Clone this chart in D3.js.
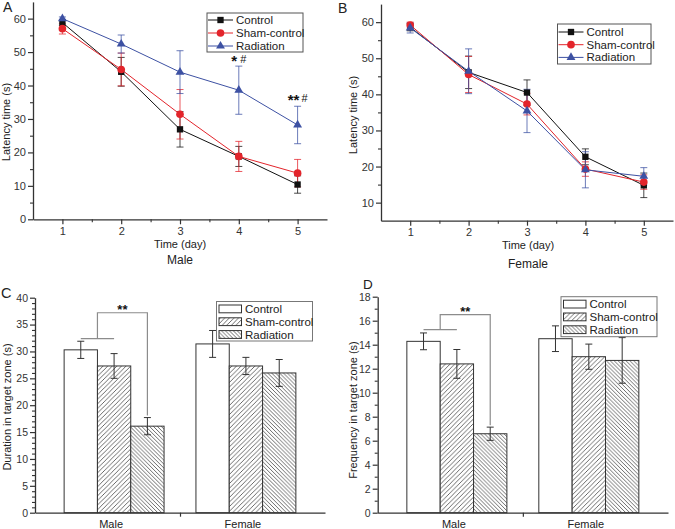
<!DOCTYPE html>
<html><head><meta charset="utf-8">
<script src="https://cdn.jsdelivr.net/npm/d3@7"></script>
<style>
body{margin:0;background:#fff;}
svg{display:block;font-family:"Liberation Sans",Arial,sans-serif;}
</style></head>
<body><svg id="c" width="675" height="529"></svg>
<script>
// ---------- data ----------
const days = [1, 2, 3, 4, 5];
const seriesNames = ["Control", "Sham-control", "Radiation"];
const maleControl = [58.8, 44.1, 26.9, 18.8, 10.4];
const maleControlErr = [0.8, 4.3, 5.3, 3.0, 2.6];
const maleSham = [57.0, 44.8, 31.4, 18.8, 13.8];
const maleShamErr = [1.6, 4.9, 7.4, 4.5, 4.1];
const maleRad = [60.0, 52.4, 44.0, 38.6, 28.2];
const maleRadErr = [0.5, 2.7, 6.4, 7.2, 5.6];
const femaleControl = [58.6, 46.1, 40.5, 22.7, 14.8];
const femaleControlErr = [1.0, 4.5, 3.5, 2.2, 3.4];
const femaleSham = [59.2, 45.5, 37.3, 19.3, 15.7];
const femaleShamErr = [0.8, 5.0, 3.0, 2.0, 2.0];
const femaleRad = [58.4, 46.4, 35.4, 19.1, 17.3];
const femaleRadErr = [1.4, 6.2, 6.0, 5.0, 2.4];

const sexes = ["Male", "Female"];
const durControl = [30.3, 31.4], durControlErr = [1.6, 2.5];
const durSham = [27.3, 27.3], durShamErr = [2.3, 1.6];
const durRad = [16.1, 26.0], durRadErr = [1.6, 2.5];
const freqControl = [14.28, 14.5], freqControlErr = [0.7, 1.07];
const freqSham = [12.4, 13.0], freqShamErr = [1.2, 1.05];
const freqRad = [6.58, 12.69], freqRadErr = [0.55, 1.9];

const ticksA = [0, 10, 20, 30, 40, 50, 60];
const ticksB = [10, 20, 30, 40, 50, 60];
const ticksC = [0, 5, 10, 15, 20, 25, 30, 35, 40];
const ticksD = [0, 2, 4, 6, 8, 10, 12, 14, 16, 18];

// ---------- setup ----------
const svg = d3.select("#c");
const colors = ["#111111", "#e3242b", "#3d51a3"];
const symbols = [d3.symbolSquare, d3.symbolCircle, d3.symbolTriangle];
const symSizes = [40, 46, 34];
const AX = "#333";

const defs = svg.append("defs");
function hatch(id, period, dir) {
  const p = defs.append("pattern").attr("id", id).attr("patternUnits", "userSpaceOnUse")
    .attr("width", period).attr("height", period);
  p.append("rect").attr("width", period).attr("height", period).attr("fill", "#fff");
  const w = period;
  const d = dir > 0
    ? `M0,${w} L${w},0 M${-w / 2},${w / 2} L${w / 2},${-w / 2} M${w / 2},${w * 1.5} L${w * 1.5},${w / 2}`
    : `M0,0 L${w},${w} M${-w / 2},${w / 2} L${w / 2},${w * 1.5} M${w / 2},${-w / 2} L${w * 1.5},${w / 2}`;
  p.append("path").attr("d", d).attr("stroke", "#3a3a3a").attr("stroke-width", 0.75);
}
hatch("hSham", 4.6, 1);
hatch("hRad", 3.9, -1);
const fills = ["#fff", "url(#hSham)", "url(#hRad)"];

function styleAxis(g, fs) {
  g.selectAll("path.domain").attr("stroke", AX).attr("stroke-width", 1.3);
  g.selectAll(".tick line").attr("stroke", AX).attr("stroke-width", 1.2);
  g.selectAll(".tick text").attr("fill", "#333").style("font-size", fs + "px")
    .style("font-family", '"Liberation Sans",Arial,sans-serif');
}
function minorAxis(g, axisFn, scale, vals, size) {
  const a = g.append("g").call(axisFn(scale).tickValues(vals).tickSize(size).tickFormat(""));
  a.select("path.domain").remove();
  a.selectAll(".tick line").attr("stroke", AX).attr("stroke-width", 1.1);
}
function text(x, y, s, fs, anchor, rot) {
  const t = svg.append("text").attr("x", x).attr("y", y).text(s)
    .style("font-size", fs + "px").attr("fill", "#222").attr("text-anchor", anchor || "middle");
  if (rot) t.attr("transform", `rotate(-90,${x},${y})`);
  return t;
}

// ---------- line panels ----------
function linePanel(cfg) {
  const x = d3.scaleLinear().domain([0.5, 5.5]).range(cfg.xr);
  const y = d3.scaleLinear().domain(cfg.ydom).range(cfg.yr);
  const g = svg.append("g");
  const yAx = g.append("g").attr("transform", `translate(${cfg.xr[0]},0)`)
    .call(d3.axisLeft(y).tickValues(cfg.yticks).tickSize(5).tickSizeOuter(0).tickPadding(2));
  styleAxis(yAx, 11);
  minorAxis(yAx, d3.axisLeft, y, cfg.yticks.map(v => v + 5).filter(v => v < cfg.ydom[1]), 3);
  const xAx = g.append("g").attr("transform", `translate(0,${cfg.yr[0]})`)
    .call(d3.axisBottom(x).tickValues(days).tickFormat(d3.format("d")).tickSize(5).tickSizeOuter(0).tickPadding(3));
  styleAxis(xAx, 11);
  minorAxis(xAx, d3.axisBottom, x, [1.5, 2.5, 3.5, 4.5], 3);

  const line = d3.line().x((d, i) => x(days[i])).y(d => y(d));
  cfg.series.forEach((s, k) => {
    const sg = g.append("g");
    sg.append("path").attr("d", line(s.v)).attr("fill", "none").attr("stroke", colors[k]).attr("stroke-width", 1);
    s.v.forEach((v, i) => {
      const cx = x(days[i]), hi = y(v + s.e[i]), lo = y(v - s.e[i]);
      sg.append("path").attr("d", `M${cx},${hi}V${lo}M${cx - 3.5},${hi}H${cx + 3.5}M${cx - 3.5},${lo}H${cx + 3.5}`)
        .attr("stroke", colors[k]).attr("stroke-width", 0.9).attr("fill", "none").attr("opacity", 0.85);
    });
  });
  cfg.series.forEach((s, k) => {
    g.append("g").selectAll("path").data(s.v).join("path")
      .attr("transform", (d, i) => `translate(${x(days[i])},${y(d)})`)
      .attr("d", d3.symbol().type(symbols[k]).size(symSizes[k])).attr("fill", colors[k]);
  });
  // legend
  const L = cfg.leg;
  g.append("rect").attr("x", L.x).attr("y", L.y).attr("width", L.w).attr("height", L.h)
    .attr("fill", "#fff").attr("stroke", "#555").attr("stroke-width", 1);
  seriesNames.forEach((n, k) => {
    const yy = L.y + L.dy0 + k * L.dy;
    g.append("line").attr("x1", L.x + 1).attr("x2", L.x + 26).attr("y1", yy).attr("y2", yy)
      .attr("stroke", colors[k]).attr("stroke-width", 1);
    g.append("path").attr("transform", `translate(${L.x + 13.5},${yy})`)
      .attr("d", d3.symbol().type(symbols[k]).size(symSizes[k])).attr("fill", colors[k]);
    g.append("text").attr("x", L.x + 29).attr("y", yy + 4).text(n)
      .style("font-size", "11.5px").attr("fill", "#222");
  });
  return { x, y };
}

const A = linePanel({
  xr: [33, 327], yr: [219.3, 1.9], ydom: [0, 65], yticks: ticksA,
  series: [{ v: maleControl, e: maleControlErr }, { v: maleSham, e: maleShamErr }, { v: maleRad, e: maleRadErr }],
  leg: { x: 207, y: 13, w: 96, h: 39, dy0: 7, dy: 13 }
});
const B = linePanel({
  xr: [381, 673], yr: [220.7, 4.1], ydom: [5, 65], yticks: ticksB,
  series: [{ v: femaleControl, e: femaleControlErr }, { v: femaleSham, e: femaleShamErr }, { v: femaleRad, e: femaleRadErr }],
  leg: { x: 557.5, y: 24, w: 93.5, h: 40, dy0: 8, dy: 12.7 }
});

// significance marks (stars lowered to sit level with the #)
function sig(x, y, stars, hash, fs, gap) {
  const t = svg.append("text").attr("x", x).attr("y", y).attr("text-anchor", "middle")
    .style("font-size", fs + "px").style("font-weight", "bold").attr("fill", "#111");
  t.append("tspan").attr("dy", 2.5).text(stars);
  if (hash) t.append("tspan").attr("dy", -2.5).attr("dx", gap).style("font-size", "11px").style("font-weight", "normal").text(hash);
}
sig(A.x(4), A.y(maleRad[3] + maleRadErr[3]) - 3, "*", "#", 15, 3);
sig(A.x(5), A.y(maleRad[4] + maleRadErr[4]) - 4, "**", "#", 15, 2);

// titles A/B
text(3, 12, "A", 14, "start");
text(338, 13, "B", 14, "start");
text(10, 122, "Latency time (s)", 11, "middle", true);
text(357, 115, "Latency time (s)", 11, "middle", true);
text(180, 248, "Time (day)", 11);
text(528, 249, "Time (day)", 11);
text(180, 264, "Male", 12);
text(528, 268, "Female", 12);

// ---------- bar panels ----------
function barPanel(cfg) {
  const x = d3.scaleLinear().domain([0.4, 2.6]).range(cfg.xr);
  const y = d3.scaleLinear().domain(cfg.ydom).range(cfg.yr);
  const g = svg.append("g");
  const bw = 0.2527;
  cfg.series.forEach((s, k) => {
    s.v.forEach((v, i) => {
      const xc = i + 1 + (k - 1) * bw;
      const x0 = x(xc - bw / 2), x1 = x(xc + bw / 2);
      g.append("rect").attr("x", x0).attr("y", y(v)).attr("width", x1 - x0).attr("height", y(0) - y(v))
        .attr("fill", fills[k]).attr("stroke", "#333").attr("stroke-width", 1);
    });
  });
  cfg.series.forEach((s, k) => {
    s.v.forEach((v, i) => {
      const cx = x(i + 1 + (k - 1) * bw), hi = y(v + s.e[i]), lo = y(v - s.e[i]);
      g.append("path").attr("d", `M${cx},${hi}V${lo}M${cx - 3.5},${hi}H${cx + 3.5}M${cx - 3.5},${lo}H${cx + 3.5}`)
        .attr("stroke", "#333").attr("stroke-width", 1).attr("fill", "none");
    });
  });
  const yAx = g.append("g").attr("transform", `translate(${cfg.xr[0]},0)`)
    .call(d3.axisLeft(y).tickValues(cfg.yticks).tickSize(5).tickSizeOuter(0).tickPadding(2));
  styleAxis(yAx, 10.5);
  minorAxis(yAx, d3.axisLeft, y, cfg.minor, 3);
  const xAx = g.append("g").attr("transform", `translate(0,${cfg.yr[0]})`)
    .call(d3.axisBottom(x).tickValues([1.5]).tickFormat("").tickSize(4).tickSizeOuter(0));
  styleAxis(xAx, 11);
  sexes.forEach((s, i) => {
    g.append("text").attr("x", x(i + 1) - 3).attr("y", cfg.yr[0] + 15).text(s)
      .attr("text-anchor", "middle").style("font-size", "11px").attr("fill", "#222");
  });
  // bracket
  const gray = "#8c8c8c";
  const xm0 = x(1 - bw), xm1 = x(1), xmid = x(1 - bw / 2);
  const xr = x(1 + bw);
  const yLow = y(cfg.series[2].v[0] + cfg.series[2].e[0]) - 2;
  g.append("path").attr("d", `M${xm0},${y(cfg.brLow)}H${xm1}`).attr("stroke", gray).attr("stroke-width", 1.3);
  g.append("path").attr("d", `M${xmid},${y(cfg.brLow)}V${y(cfg.brHigh)}H${xr}V${yLow}`)
    .attr("stroke", gray).attr("stroke-width", 1.2).attr("fill", "none");
  g.append("text").attr("x", (xmid + xr) / 2).attr("y", y(cfg.brHigh) + 1).text("**")
    .attr("text-anchor", "middle").style("font-size", "13px").style("font-weight", "bold").attr("fill", "#111");
  // legend
  const L = cfg.leg;
  g.append("rect").attr("x", L.x).attr("y", L.y).attr("width", L.w).attr("height", L.h)
    .attr("fill", "#fff").attr("stroke", "#777").attr("stroke-width", 1);
  seriesNames.forEach((n, k) => {
    const yy = L.y + 3.5 + k * 12.8;
    g.append("rect").attr("x", L.x + 2.5).attr("y", yy).attr("width", 22.5).attr("height", 7.8)
      .attr("fill", fills[k]).attr("stroke", "#333").attr("stroke-width", 1);
    g.append("text").attr("x", L.x + 28.5).attr("y", yy + 8).text(n)
      .style("font-size", "11.5px").attr("fill", "#222");
  });
}

barPanel({
  xr: [35, 325], yr: [512.7, 297.7], ydom: [0, 40], yticks: ticksC,
  minor: d3.range(1, 40).filter(v => v % 5 !== 0),
  series: [{ v: durControl, e: durControlErr }, { v: durSham, e: durShamErr }, { v: durRad, e: durRadErr }],
  brLow: 32.4, brHigh: 37.2,
  leg: { x: 216.5, y: 301.5, w: 96, h: 39.5 }
});
barPanel({
  xr: [377.7, 668], yr: [512.7, 296.7], ydom: [0, 18], yticks: ticksD,
  minor: d3.range(1, 18, 2),
  series: [{ v: freqControl, e: freqControlErr }, { v: freqSham, e: freqShamErr }, { v: freqRad, e: freqRadErr }],
  brLow: 15.25, brHigh: 16.5,
  leg: { x: 561, y: 296.7, w: 96, h: 40 }
});

text(1, 298, "C", 14.5, "start");
text(363, 289, "D", 13.5, "start");
text(10.5, 407, "Duration in target zone (s)", 11, "middle", true);
text(357, 410, "Frequency in target zone (s)", 11, "middle", true);
</script>
</body></html>
